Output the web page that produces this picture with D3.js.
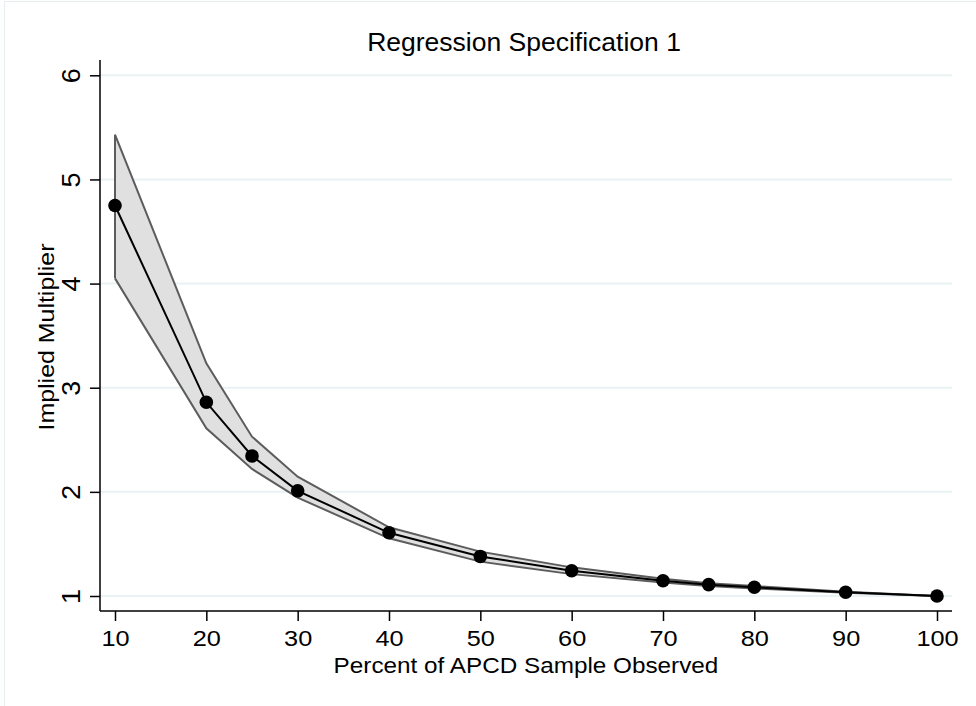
<!DOCTYPE html>
<html lang="en">
<head>
    <meta charset="UTF-8">
    <script src="https://cdnjs.cloudflare.com/ajax/libs/d3/7.8.5/d3.min.js"></script>
    <style>
        body { margin: 0; background: #fff; }
        text { font-family: "Liberation Sans", Arial, Helvetica, sans-serif; fill: #000; }
    </style>
</head>
<body>
<div id="chart"></div>
<script>
    // percent of sample observed
    var percents = [10, 20, 25, 30, 40, 50, 60, 70, 75, 80, 90, 100];
    // implied multiplier point estimate and confidence band
    var multiplier = [4.75, 2.86, 2.345, 2.01, 1.607, 1.38, 1.243, 1.147, 1.109, 1.084, 1.036, 1.0];
    var upper = [5.43, 3.235, 2.53, 2.146, 1.66, 1.426, 1.275, 1.165, 1.122, 1.095, 1.042, 1.0];
    var lower = [4.05, 2.61, 2.22, 1.945, 1.554, 1.33, 1.21, 1.13, 1.095, 1.072, 1.03, 1.0];
    var xTicks = [10, 20, 30, 40, 50, 60, 70, 80, 90, 100];
    var yTicks = [1, 2, 3, 4, 5, 6];

    var width = 976, height = 706;
    var plotLeft = 100, plotRight = 952, plotTop = 60, plotBottom = 611;

    var svg = d3.select("#chart")
        .append("svg")
        .attr("width", width)
        .attr("height", height);

    // light outer frame of the graph region
    svg.append("rect")
        .attr("x", 4.5)
        .attr("y", 1.5)
        .attr("width", width)
        .attr("height", height)
        .attr("fill", "none")
        .attr("stroke", "#e6eef0");

    var x = d3.scaleLinear().domain([10, 100]).range([115, 937]);
    var y = d3.scaleLinear().domain([1, 6]).range([596, 75.3]);

    // grid lines
    svg.append("g")
        .selectAll("line")
        .data(yTicks)
        .enter()
        .append("line")
        .attr("x1", plotLeft)
        .attr("x2", plotRight)
        .attr("y1", function (d) { return y(d); })
        .attr("y2", function (d) { return y(d); })
        .attr("stroke", "#eaf2f3")
        .attr("stroke-width", 2);

    var rows = percents.map(function (p, i) {
        return {p: p, m: multiplier[i], hi: upper[i], lo: lower[i]};
    });

    var band = d3.area()
        .x(function (d) { return x(d.p); })
        .y0(function (d) { return y(d.lo); })
        .y1(function (d) { return y(d.hi); });

    svg.append("path")
        .datum(rows)
        .attr("d", band)
        .attr("fill", "#e0e0e0")
        .attr("stroke", "none");

    // band outlines (closed at the left end like the original)
    var edge = d3.line()
        .x(function (d) { return d[0]; })
        .y(function (d) { return d[1]; });
    var outline = [[x(percents[0]), y(lower[0])]];
    rows.forEach(function (d) { outline.push([x(d.p), y(d.hi)]); });
    svg.append("path")
        .datum(outline)
        .attr("d", edge)
        .attr("fill", "none")
        .attr("stroke", "#5c5c5c")
        .attr("stroke-width", 2);
    svg.append("path")
        .datum(rows.map(function (d) { return [x(d.p), y(d.lo)]; }))
        .attr("d", edge)
        .attr("fill", "none")
        .attr("stroke", "#5c5c5c")
        .attr("stroke-width", 2);

    var line = d3.line()
        .x(function (d) { return x(d.p); })
        .y(function (d) { return y(d.m); });

    svg.append("path")
        .datum(rows)
        .attr("d", line)
        .attr("fill", "none")
        .attr("stroke", "#000")
        .attr("stroke-width", 2);

    svg.append("g")
        .selectAll("circle")
        .data(rows)
        .enter()
        .append("circle")
        .attr("cx", function (d) { return x(d.p); })
        .attr("cy", function (d) { return y(d.m); })
        .attr("r", 6.8)
        .attr("fill", "#000");

    // axes
    var xAxis = svg.append("g")
        .attr("transform", "translate(0," + plotBottom + ")")
        .call(d3.axisBottom(x).tickValues(xTicks).tickSize(10).tickSizeOuter(0).tickFormat(d3.format("d")));
    xAxis.select(".domain").remove();
    xAxis.selectAll(".tick line").attr("stroke", "#000").attr("stroke-width", 1.5);
    xAxis.selectAll(".tick text")
        .attr("y", 0)
        .attr("dy", 0)
        .attr("transform", "translate(0,35) scale(1.15,1)")
        .style("font-size", "22px");

    var yAxis = svg.append("g")
        .attr("transform", "translate(" + plotLeft + ",0)")
        .call(d3.axisLeft(y).tickValues(yTicks).tickSize(10).tickSizeOuter(0).tickFormat(d3.format("d")));
    yAxis.select(".domain").remove();
    yAxis.selectAll(".tick line").attr("stroke", "#000").attr("stroke-width", 1.5);
    yAxis.selectAll(".tick text")
        .attr("x", 0)
        .attr("dy", 0)
        .attr("text-anchor", "middle")
        .attr("transform", "translate(-20.5,0) rotate(-90) scale(1.08,1)")
        .style("font-size", "25px");

    svg.append("line")
        .attr("x1", plotLeft).attr("x2", plotRight)
        .attr("y1", plotBottom).attr("y2", plotBottom)
        .attr("stroke", "#000").attr("stroke-width", 1.5);
    svg.append("line")
        .attr("x1", plotLeft).attr("x2", plotLeft)
        .attr("y1", plotTop).attr("y2", plotBottom)
        .attr("stroke", "#000").attr("stroke-width", 1.5);

    // titles
    svg.append("text")
        .attr("text-anchor", "middle")
        .attr("transform", "translate(524,51)")
        .style("font-size", "26.5px")
        .text("Regression Specification 1");

    svg.append("text")
        .attr("text-anchor", "middle")
        .attr("transform", "translate(526,672.5) scale(1.08,1)")
        .style("font-size", "22.5px")
        .text("Percent of APCD Sample Observed");

    svg.append("text")
        .attr("text-anchor", "middle")
        .attr("transform", "translate(53.5,337) rotate(-90) scale(1.16,1)")
        .style("font-size", "21.5px")
        .text("Implied Multiplier");
</script>
</body>
</html>
